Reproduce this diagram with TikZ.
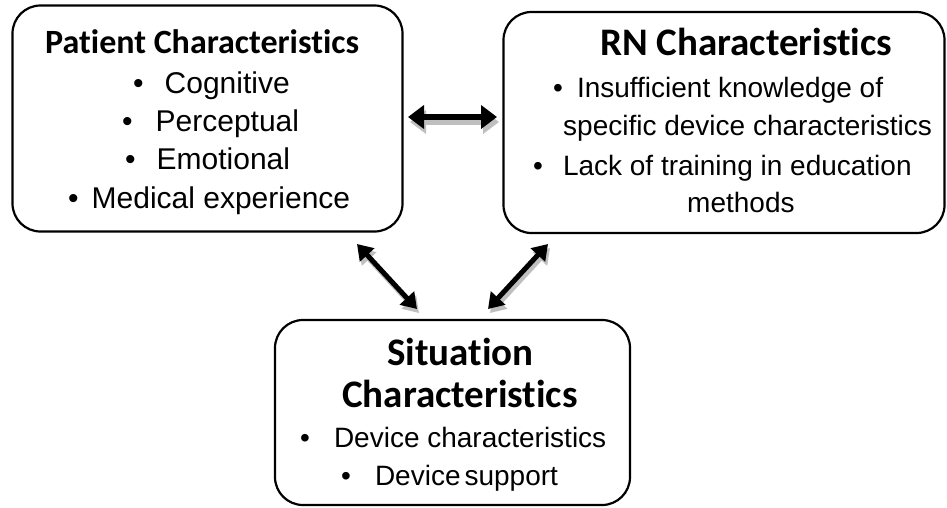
\documentclass[tikz,border=0pt]{standalone}
\usepackage{fontspec}
\usetikzlibrary{arrows.meta}
\newfontfamily\ttlfont[Ligatures=NoCommon]{Carlito}
\newfontfamily\bdyfont{Liberation Sans}
\begin{document}
\begin{tikzpicture}[x=1pt,y=-1pt,
  box/.style={draw=black, line width=2.2pt, rounded corners=28pt, fill=white, inner sep=0pt},
  ttl/.style={anchor=base west, inner sep=0pt, font=\ttlfont\bfseries\fontsize{39}{41}\selectfont},
  itm/.style={anchor=base west, inner sep=0pt, font=\bdyfont\fontsize{28}{30}\selectfont},
  pitm/.style={itm, font=\bdyfont\fontsize{30}{32}\selectfont},
  dbl/.style={line width=5pt, {Triangle[length=15pt,width=19pt]}-{Triangle[length=15pt,width=19pt]}},
  dblshadow/.style={dbl, draw=black!25, fill=black!25}
]
\useasboundingbox (0,0) rectangle (947,507);
\fill[white] (0,0) rectangle (947,507);

% boxes
\node[box, minimum width=390pt, minimum height=226pt] (pat) at (207.5,118.5) {};
\node[box, minimum width=441pt, minimum height=221pt] (rn) at (724,122.5) {};
\node[box, minimum width=355pt, minimum height=185pt] (sit) at (452.5,412.5) {};

% patient text
\node[ttl, font=\ttlfont\bfseries\fontsize{34}{36}\selectfont] (pt) at (45,53) {Patient Characteristics};
\node[pitm] (p1) at (133,93) {•\hspace{21pt}Cognitive};
\node[pitm] (p2) at (122,131) {•\hspace{23pt}Perceptual};
\node[pitm] (p3) at (125,169) {•\hspace{21pt}Emotional};
\node[pitm] (p4) at (68,208) {•\hspace{13pt}Medical experience};

% RN text
\node[ttl] (rt) at (600,55) {RN Characteristics};
\node[itm] (r1) at (553,97) {•\hspace{14pt}Insufficient knowledge of};
\node[itm] (r2) at (563,135) {specific device characteristics};
\node[itm] (r3) at (533,175) {•\hspace{20pt}Lack of training in education};
\node[itm] (r4) at (687,212) {methods};

% situation text
\node[ttl] (st1) at (387,365) {Situation};
\node[ttl] (st2) at (342,407) {Characteristics};
\node[itm] (s1) at (300,447) {•\hspace{24pt}Device characteristics};
\node[itm] (s2) at (341,485) {•\hspace{24pt}Device\hspace{4pt}support};

% arrow end points
\coordinate (hA) at (408,117);
\coordinate (hB) at (497,117);
\coordinate (lA) at (357,244);
\coordinate (lB) at (417,309);
\coordinate (rA) at (548,244);
\coordinate (rB) at (488,309);

% shadows
\draw[dblshadow, line width=6pt, {Triangle[length=16pt,width=23pt]}-{Triangle[length=16pt,width=23pt]}]
  ([shift={(2,5)}]hA) -- ([shift={(2,5)}]hB);
\draw[dblshadow] ([shift={(2,4)}]lA) -- ([shift={(2,4)}]lB);
\draw[dblshadow] ([shift={(2,4)}]rA) -- ([shift={(2,4)}]rB);

% arrows
\draw[dbl, line width=6pt, {Triangle[length=16pt,width=23pt]}-{Triangle[length=16pt,width=23pt]}] (hA) -- (hB);
\draw[dbl] (lA) -- (lB);
\draw[dbl] (rA) -- (rB);
\end{tikzpicture}
\end{document}
